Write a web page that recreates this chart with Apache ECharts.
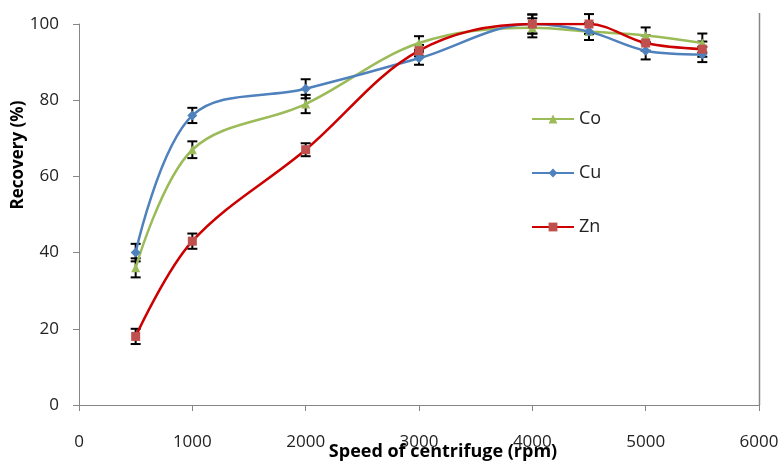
<!DOCTYPE html>
<html lang="en">
<head>
	<meta charset="UTF-8">
	<title>Recovery vs speed</title>
	<style>
       html, body { margin: 0; padding: 0; background: #fff; }
       #chart_box { width: 782px; height: 463px; }
	</style>
	<script type="text/javascript" src="https://cdn.jsdelivr.net/npm/echarts@6/dist/echarts.min.js"></script>
</head>
<body>
	<div id="chart_box"></div>
	<script type="text/javascript">
      // data
      var speeds = [500, 1000, 2000, 3000, 4000, 4500, 5000, 5500];
      var coRec = [36, 67, 79, 95, 99, 98, 97, 95];
      var cuRec = [40, 76, 83, 91, 100, 98, 93, 92];
      var znRec = [18, 43, 67, 93, 100, 100, 95, 93.4];
      var coErr = [2.5, 2.2, 2.4, 1.8, 2.5, 2.2, 2.1, 2.5];
      var cuErr = [2.3, 2.0, 2.5, 1.7, 2.5, 2.2, 2.3, 2.0];
      var znErr = [2.0, 2.0, 1.7, 1.5, 2.5, 2.6, 2.0, 2.0];
      var xTicks = [0, 1000, 2000, 3000, 4000, 5000, 6000];
      var yTicks = [0, 20, 40, 60, 80, 100];

      var pairs = function(ys){
        return speeds.map(function(x, i){ return [x, ys[i]]; });
      };
      var errData = function(ys, es){
        return speeds.map(function(x, i){ return [x, ys[i], es[i]]; });
      };

      // error bar with caps
      var renderErr = function(params, api){
        var x = api.value(0), y = api.value(1), e = api.value(2);
        var hi = api.coord([x, y + e]);
        var lo = api.coord([x, y - e]);
        var w = 5;
        var st = { stroke: '#000', lineWidth: 2 };
        return {
          type: 'group',
          children: [
            { type: 'line', shape: { x1: hi[0], y1: hi[1], x2: lo[0], y2: lo[1] }, style: st },
            { type: 'line', shape: { x1: hi[0] - w, y1: hi[1], x2: hi[0] + w, y2: hi[1] }, style: st },
            { type: 'line', shape: { x1: lo[0] - w, y1: lo[1], x2: lo[0] + w, y2: lo[1] }, style: st }
          ]
        };
      };

      var fontFam = '"Open Sans", "Noto Sans", sans-serif';
      var chart = echarts.init(document.getElementById('chart_box'));

      var option = {
        animation: false,
        textStyle: { fontFamily: fontFam },
        grid: { left: 79, right: 23, top: 24, bottom: 58, containLabel: false },
        legend: {
          orient: 'vertical',
          left: 526,
          top: 105,
          itemWidth: 42,
          itemHeight: 11,
          itemGap: 36,
          data: ['Co', 'Cu', 'Zn'],
          textStyle: { fontSize: 18, lineHeight: 18, color: '#222', fontFamily: fontFam }
        },
        xAxis: {
          type: 'value',
          min: xTicks[0],
          max: xTicks[xTicks.length - 1],
          interval: 1000,
          splitLine: { show: false },
          axisLine: { lineStyle: { color: '#868686', width: 1 } },
          axisTick: { show: true, length: 6, lineStyle: { color: '#868686' } },
          axisLabel: { margin: 29, fontSize: 17, color: '#222', fontFamily: fontFam,
            formatter: function(v){ return String(v); } }
        },
        yAxis: {
          type: 'value',
          min: yTicks[0],
          max: yTicks[yTicks.length - 1],
          interval: 20,
          splitLine: { show: false },
          axisLine: { show: true, lineStyle: { color: '#868686', width: 1 } },
          axisTick: { show: true, length: 6, lineStyle: { color: '#868686' } },
          axisLabel: { margin: 20, fontSize: 17, color: '#222', fontFamily: fontFam }
        },
        graphic: [
          { type: 'line', shape: { x1: 759.5, y1: 13, x2: 759.5, y2: 405 }, style: { stroke: '#868686', lineWidth: 1.5 } },
          { type: 'text', x: 18, y: 155, rotation: Math.PI / 2,
            style: { text: 'Recovery (%)', font: 'bold 17px ' + fontFam, fill: '#000', align: 'center', verticalAlign: 'middle' } },
          { type: 'text', x: 443, y: 452,
            style: { text: 'Speed of centrifuge (rpm)', font: 'bold 18px ' + fontFam, fill: '#000', align: 'center', verticalAlign: 'middle' } }
        ],
        series: [
          { name: 'errCo', type: 'custom', renderItem: renderErr, data: errData(coRec, coErr), z: 1 },
          { name: 'errCu', type: 'custom', renderItem: renderErr, data: errData(cuRec, cuErr), z: 1 },
          { name: 'errZn', type: 'custom', renderItem: renderErr, data: errData(znRec, znErr), z: 1 },
          {
            name: 'Co', type: 'line', smooth: 0.35, data: pairs(coRec),
            symbol: 'triangle', symbolSize: 9,
            lineStyle: { color: '#9BBB59', width: 2.5 },
            itemStyle: { color: '#9BBB59' }, z: 3
          },
          {
            name: 'Cu', type: 'line', smooth: 0.35, data: pairs(cuRec),
            symbol: 'diamond', symbolSize: 10,
            lineStyle: { color: '#4F81BD', width: 2.5 },
            itemStyle: { color: '#4F81BD' }, z: 3
          },
          {
            name: 'Zn', type: 'line', smooth: 0.35, data: pairs(znRec),
            symbol: 'rect', symbolSize: 9,
            lineStyle: { color: '#CC0000', width: 2.5 },
            itemStyle: { color: '#C0504D' }, z: 3
          }
        ]
      };
      chart.setOption(option);
	</script>
</body>
</html>
